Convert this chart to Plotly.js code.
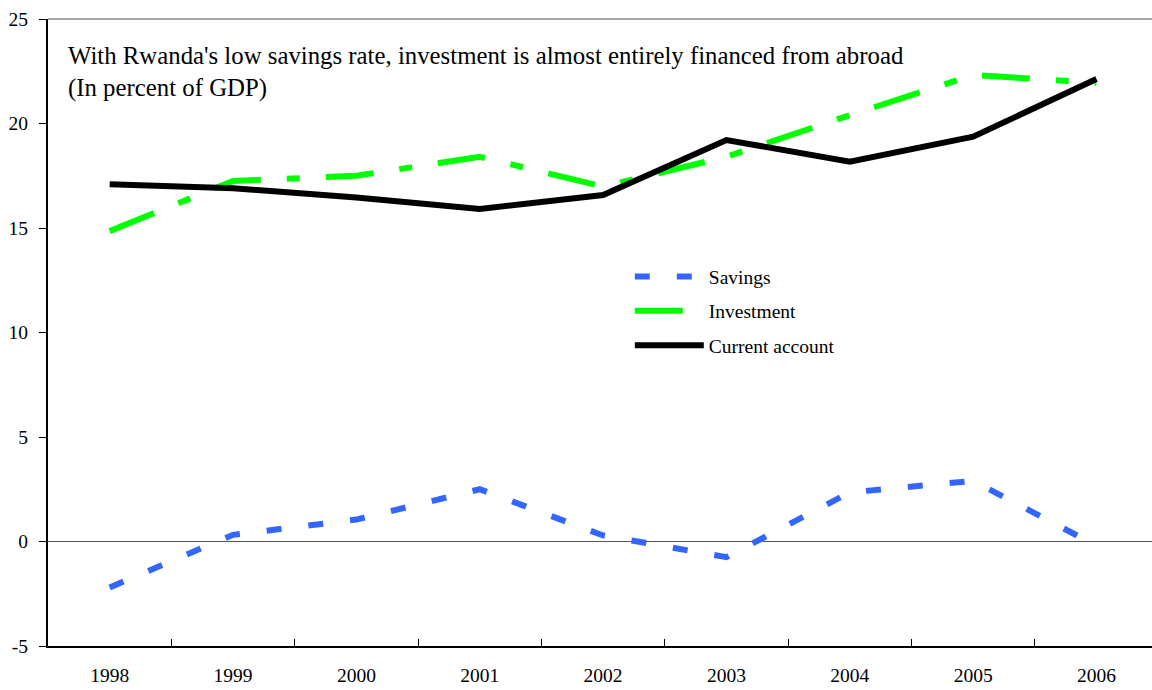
<!DOCTYPE html>
<html>
<head>
<meta charset="utf-8">
<script src="https://cdn.plot.ly/plotly-3.0.1.min.js"></script>
<style>html,body{margin:0;padding:0;background:#fff;}#chart{width:1152px;height:690px;}</style>
</head>
<body>
<div id="chart"></div>
<script>
var years = ["1998","1999","2000","2001","2002","2003","2004","2005","2006"];
var savings = [-2.2, 0.32, 1.05, 2.5, 0.29, -0.75, 2.35, 2.9, -0.2];
var investment = [14.85, 17.25, 17.5, 18.41, 16.98, 18.41, 20.4, 22.32, 21.95];
var currentAccount = [17.09, 16.9, 16.46, 15.91, 16.58, 19.21, 18.17, 19.37, 22.13];
var yTicks = [-5, 0, 5, 10, 15, 20, 25];
var titleText = "With Rwanda's low savings rate, investment is almost entirely financed from abroad<br>(In percent of GDP)";

var font = "Liberation Serif";

var traces = [
  {x: years, y: savings, name: "Savings", type: "scatter", mode: "lines", legendgroup: "a",
   line: {color: "#3366FF", width: 6, dash: "15px,27px"}},
  {x: years, y: investment, name: "Investment", type: "scatter", mode: "lines", legendgroup: "b",
   line: {color: "#00FF00", width: 6, dash: "48px,26px,13px,26px"}},
  {x: years, y: currentAccount, name: "Current account", type: "scatter", mode: "lines", legendgroup: "c",
   line: {color: "#000000", width: 6}}
];

var layout = {
  width: 1152, height: 690,
  margin: {l: 48, r: 0, t: 19, b: 44},
  paper_bgcolor: "#fff", plot_bgcolor: "#fff",
  font: {family: font, size: 19.5, color: "#000"},
  showlegend: true,
  legend: {
    x: 0.527, y: 0.62, xanchor: "left", yanchor: "top",
    bgcolor: "rgba(0,0,0,0)", font: {family: font, size: 19.5, color: "#000"},
    tracegroupgap: 6, traceorder: "grouped", itemwidth: 69
  },
  xaxis: {
    type: "category", range: [-0.5, 8.45],
    showgrid: false, zeroline: false,
    showline: true, linecolor: "#000", linewidth: 2,
    ticks: "inside", ticklen: 7, tickwidth: 1, tickcolor: "#000",
    tickson: "boundaries", ticklabelstandoff: 11,
    tickfont: {family: font, size: 19.5, color: "#000"}
  },
  yaxis: {
    range: [-5, 25], tickvals: yTicks, ticktext: yTicks.map(String),
    showgrid: false, zeroline: true, zerolinecolor: "#555", zerolinewidth: 1.5,
    showline: true, linecolor: "#000", linewidth: 2,
    ticks: "outside", ticklen: 7, tickwidth: 1, tickcolor: "#000",
    ticklabelstandoff: 7,
    tickfont: {family: font, size: 19.5, color: "#000"}
  },
  shapes: [
    {type: "line", xref: "paper", yref: "paper", x0: 0, x1: 1, y0: 1, y1: 1,
     line: {color: "#888", width: 1.5}}
  ],
  annotations: [
    {xref: "paper", yref: "paper", x: 0.0165, y: 0.967, xanchor: "left", yanchor: "top",
     align: "left", showarrow: false, text: titleText,
     font: {family: font, size: 24.8, color: "#000"}}
  ]
};

Plotly.newPlot("chart", traces, layout, {displayModeBar: false, staticPlot: true});
</script>
</body>
</html>
